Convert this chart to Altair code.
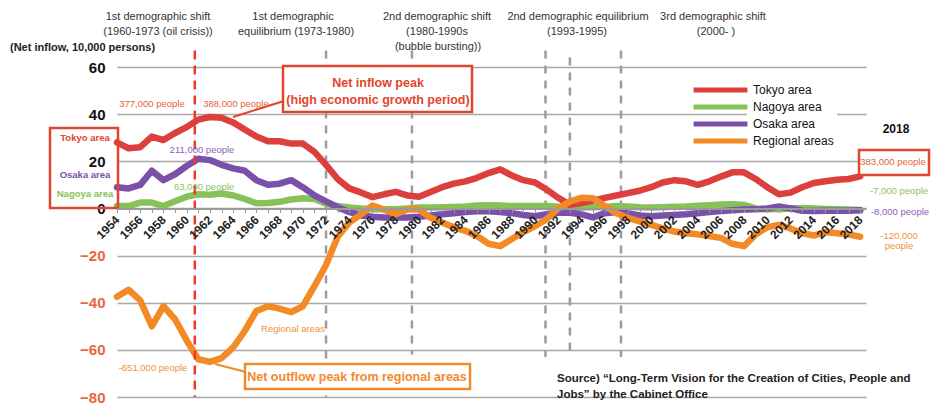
import altair as alt
import pandas as pd

# ---------------- data ----------------
years = list(range(1954, 2019))
tokyo = [28, 25.5, 26, 30.5, 29, 32, 34.5, 37.7, 38.8, 38.5, 36.5, 33.5, 30.5, 28.5, 28.5, 27.5,
         27.5, 24, 18.5, 12.5, 8.5, 6.8, 4.8, 6, 7, 5.5, 5, 7, 9, 10.5, 11.5, 13, 15, 16.6,
         14, 12, 11, 8, 4.5, 1.5, 2.3, 3.3, 4.5, 5.5, 6.5, 7.5, 9, 11, 12, 11.5, 10, 11.5,
         13.5, 15.3, 15.3, 12.5, 9, 6, 6.7, 9, 10.8, 11.5, 12.2, 12.5, 13.6]
nagoya = [1, 1, 2.5, 2.5, 1, 3, 5, 6, 5.8, 6.3, 5.5, 4, 2.2, 2.3, 2.8, 3.8, 4.3, 4, 2, 1,
          0.4, 0, -0.3, -0.4, -0.3, 0, 0.4, 0.4, 0.5, 0.6, 0.8, 1.2, 1.3, 1.2, 1, 1, 1, 1,
          0.7, 0.4, 0.4, 0.5, 0.6, 1, 0.8, 0.5, 0.4, 0.5, 0.7, 0.8, 1.1, 1.4, 1.7, 1.8, 1.5,
          0, -0.4, -0.3, 0, 0.2, 0, -0.2, -0.4, -0.5, -0.7]
osaka = [9, 8.5, 10, 16, 12, 14.5, 18, 21.1, 20.5, 18.5, 17, 16, 12, 10, 10.5, 12, 9, 5.5,
         3, 0.5, -1.5, -3, -3.5, -3.8, -3.8, -3.8, -3.5, -3, -2.5, -2, -1.5, -1.2, -1.2,
         -1.5, -2, -2.8, -3.3, -2.5, -1.8, -1.8, -2.5, -3.8, -2, -1.5, -2, -3, -3.3, -3,
         -2.8, -2.5, -2, -1.5, -1.1, -0.8, -0.5, -0.4, 0, 0.8, 0, -1, -1.1, -1, -1, -1, -0.8]
regional = [-37.5, -34.5, -39, -50, -41.5, -47, -56, -64, -65.1, -63.5, -59, -52, -43.5,
            -41.5, -42.5, -44, -41.5, -33, -24, -12, -6, -2.5, 1.2, -0.5, -2.5, -0.5, -0.5,
            -4, -6, -8, -9.5, -11.7, -15, -16, -13, -10, -7.5, -4.5, 0, 3, 4.5, 4.3, 1, -2,
            -4, -5.5, -7, -8.5, -9.8, -10.5, -11, -11.7, -12.5, -15, -16, -11, -8, -7, -8.5,
            -10.5, -11.5, -10, -10.5, -11, -12]
assert all(len(s) == len(years) for s in (tokyo, nagoya, osaka, regional))

series_names = ["Tokyo area", "Nagoya area", "Osaka area", "Regional areas"]
series_values = [tokyo, nagoya, osaka, regional]
series_colors = ["#dc3f3c", "#86c257", "#7b50aa", "#f28a26"]
draw_order = ["Nagoya area", "Osaka area", "Tokyo area", "Regional areas"]

y_ticks = [-80, -60, -40, -20, 0, 20, 40, 60]

# period markers (years)
shift_year = [1960.7]
period_years = [1972, 1979.4, 1990.9, 1993.0, 1997.4]
period_top = [67, 67, 67, 64, 67]
period_bottom = [-80, -62, -63, -63, -63]

# texts
header_texts = ["1st demographic shift", "(1960-1973 (oil crisis))", "1st demographic",
                "equilibrium (1973-1980)", "2nd demographic shift", "(1980-1990s",
                "(bubble bursting))", "2nd demographic equilibrium", "(1993-1995)",
                "3rd demographic shift", "(2000- )"]
unit_text = ["(Net inflow, 10,000 persons)"]
peak_box_texts = ["Net inflow peak", "(high economic growth period)"]
outflow_box_text = ["Net outflow peak from regional areas"]
source_texts = ["Source) \u201cLong-Term Vision for the Creation of Cities, People and",
                "Jobs\u201d by the Cabinet Office"]
red_notes = ["377,000 people", "388,000 people", "383,000 people"]
purple_notes = ["211,000 people", "-8,000 people"]
green_notes = ["63,000 people", "-7,000 people"]
orange_notes = ["-120,000", "people", "Regional areas", "-651,000 people"]
side_labels = ["Tokyo area", "Osaka area", "Nagoya area"]
year_note = ["2018"]

# ---------------- layout ----------------
W, H = 749, 330
X0, Y0 = 117, 67          # plot origin on the page
FONT = "Liberation Sans"
RED, ORANGE = "#e2452f", "#f08a2c"


def place(texts, xs, ys):
    return pd.DataFrame({"t": texts, "px": [x - X0 for x in xs], "py": [y - Y0 for y in ys]})


def pix_x(f):
    return alt.X(f, scale=None, axis=None)


def pix_y(f):
    return alt.Y(f, scale=None, axis=None)


def text_layer(df, color, size, weight="normal", align="center", font=FONT):
    return alt.Chart(df).mark_text(color=color, fontSize=size, fontWeight=weight, align=align,
                                   baseline="middle", font=font).encode(
        x=pix_x("px:Q"), y=pix_y("py:Q"), text="t:N")


def box_layer(x1, y1, x2, y2, color, filled=True, stroke_width=2.5):
    d = pd.DataFrame({"px": [x1 - X0], "py": [y1 - Y0], "px2": [x2 - X0], "py2": [y2 - Y0]})
    return alt.Chart(d).mark_rect(fill="white", fillOpacity=1 if filled else 0,
                                  stroke=color, strokeWidth=stroke_width).encode(
        x=pix_x("px:Q"), y=pix_y("py:Q"), x2="px2:Q", y2="py2:Q")


def connector(x1, y1, x2, y2, color):
    d = pd.DataFrame({"px": [x1 - X0], "py": [y1 - Y0], "px2": [x2 - X0], "py2": [y2 - Y0]})
    return alt.Chart(d).mark_rule(color=color, strokeWidth=2).encode(
        x=pix_x("px:Q"), y=pix_y("py:Q"), x2="px2:Q", y2="py2:Q")


rows = []
for name, vals in zip(series_names, series_values):
    for yr, v in zip(years, vals):
        rows.append({"year": yr, "value": v, "series": name})
df = pd.DataFrame(rows)

x_scale = alt.Scale(domain=[1954, 2018.5], nice=False, zero=False)
x_axis = alt.Axis(values=years, format="d",
                  labelExpr="datum.value % 2 == 0 ? datum.label : ''",
                  labelAngle=-45, labelAlign="right", labelBaseline="middle",
                  labelOverlap=False, labelFlush=False, labelPadding=5,
                  offset=-(H - H * 60 / 140), grid=False,
                  domainColor="#9a9a9a", domainWidth=2, tickColor="#9a9a9a",
                  tickSize=4, tickWidth=1, labelFont=FONT, labelFontSize=12,
                  labelFontWeight="bold", labelColor="#222222", title=None, zindex=1)
y_scale = alt.Scale(domain=[-80, 60], nice=False)
y_axis = alt.Axis(values=y_ticks, grid=True, gridColor="#a8a8a8", gridWidth=1.5,
                  domain=False, ticks=False, labelPadding=12, labelFont=FONT,
                  labelFontSize=15, labelFontWeight="bold",
                  labelColor={"expr": "datum.value < 0 ? '#e8663d' : '#111111'"},
                  title=None)
x_enc = alt.X("year:Q", scale=x_scale, axis=x_axis)
y_enc = alt.Y("value:Q", scale=y_scale, axis=y_axis)
color_enc = alt.Color("series:N",
                      scale=alt.Scale(domain=series_names, range=series_colors),
                      legend=alt.Legend(orient="none", legendX=574, legendY=15, title=None,
                                        symbolType="stroke", symbolSize=2900,
                                        symbolStrokeWidth=5, clipHeight=16, rowPadding=1,
                                        labelOffset=3, labelFont=FONT, labelFontSize=12,
                                        labelFontWeight="normal",
                                        labelColor="#111111", padding=0))

# period dashed lines
periods = pd.DataFrame({"year": period_years, "top": period_top, "bottom": period_bottom})
grey_dash = alt.Chart(periods).mark_rule(color="#9c9c9c", strokeWidth=2.5,
                                         strokeDash=[8, 7]).encode(
    x=x_enc, y=alt.Y("top:Q", scale=y_scale, axis=y_axis), y2="bottom:Q")

red_dash = alt.Chart(pd.DataFrame({"year": shift_year, "top": [67], "bottom": [-80]})).mark_rule(
    color="#e8392b", strokeWidth=2.5, strokeDash=[9, 6]).encode(
    x=x_enc, y=alt.Y("top:Q", scale=y_scale, axis=y_axis), y2="bottom:Q")

line_layers = []
for name in draw_order:
    line_layers.append(
        alt.Chart(df[df.series == name]).mark_line(strokeWidth=6.5, strokeJoin="round",
                                                   strokeCap="round").encode(
            x=x_enc, y=y_enc, color=color_enc))

decor = [
    box_layer(747, 80, 837, 149, "white", stroke_width=0),   # white backing of legend labels
    connector(233, 117, 284, 101, RED),
    connector(215, 364, 246, 372, ORANGE),
    box_layer(283, 66, 472, 112, RED),
    box_layer(245, 364, 470, 389, ORANGE),
    box_layer(859, 150, 929, 175, RED),
    box_layer(50, 128, 118, 208, RED, filled=False),
]

texts = [
    text_layer(place(header_texts, [158, 158, 293, 296, 437, 437, 438, 578, 577, 713, 716],
                     [17, 32, 17, 32, 17, 32, 47, 17, 32, 17, 32]),
               "#333333", 11),
    text_layer(place(unit_text, [10], [48]), "#222222", 11, "bold", align="left"),
    text_layer(place(peak_box_texts, [378, 378], [83, 100]), RED, 12.5, "bold"),
    text_layer(place(outflow_box_text, [357], [377]), ORANGE, 12.5, "bold"),
    text_layer(place(source_texts, [557, 557], [379, 395]), "#222222", 11.5, "bold",
               align="left"),
    text_layer(place(red_notes, [152, 236, 893], [104, 104, 162]), "#e8603a", 9.5),
    text_layer(place(purple_notes, [202, 900], [150, 212]), "#8a63b8", 9.5),
    text_layer(place(green_notes, [204, 899], [187, 191]), "#8fc265", 9.5),
    text_layer(place(orange_notes, [899, 899, 293, 153], [236, 246, 329, 368]), "#f0903a", 9.5),
    text_layer(place(side_labels[:1], [85], [138]), "#e2452f", 9.5, "bold"),
    text_layer(place(side_labels[1:2], [85], [175]), "#7b50aa", 9.5, "bold"),
    text_layer(place(side_labels[2:], [85], [194]), "#86c257", 9.5, "bold"),
    text_layer(place(year_note, [896], [129]), "#111111", 12, "bold"),
]

chart = alt.layer(grey_dash, *line_layers, red_dash, *decor, *texts).properties(
    width=W, height=H,
    padding={"left": 109, "top": 59, "right": 72, "bottom": 7},
    autosize=alt.AutoSizeParams(type="none"),
    background="white",
).configure_view(stroke=None)

chart.save("out.html", embed_options={"renderer": "svg", "actions": False})
